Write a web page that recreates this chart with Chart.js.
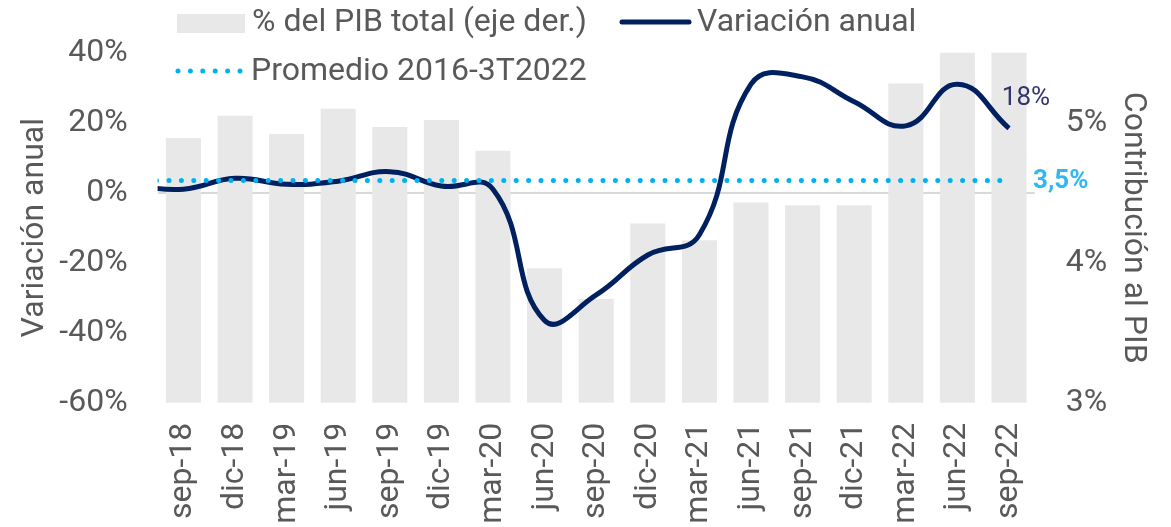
<!DOCTYPE html>
<html>
<head>
<meta charset="utf-8">
<script src="https://cdn.jsdelivr.net/npm/chart.js@4.4.1/dist/chart.umd.min.js"></script>
<style>
  html, body { margin: 0; padding: 0; background: #fff; }
  #wrap { width: 1171px; height: 527px; position: relative; }
</style>
</head>
<body>
<div id="wrap"><canvas id="chart"></canvas></div>
<script>
// quarters; jun-18 sits just left of the plot (only the lines reach into it)
const quarters = ["jun-18", "sep-18", "dic-18", "mar-19", "jun-19", "sep-19", "dic-19", "mar-20", "jun-20",
  "sep-20", "dic-20", "mar-21", "jun-21", "sep-21", "dic-21", "mar-22", "jun-22", "sep-22"];

// % del PIB total (right axis)
const pibShare = [null, 4.89, 5.05, 4.92, 5.10, 4.97, 5.02, 4.80, 3.96,
  3.74, 4.28, 4.16, 4.43, 4.41, 4.41, 5.28, 5.60, 5.60];

// variación anual (left axis)
const variacion = [2.0, 1.0, 4.1, 2.4, 3.3, 6.0, 1.9, 1.0, -36.5,
  -29.2, -17.8, -12.0, 31.0, 33.1, 26.0, 19.1, 31.0, 18.4];

// promedio 2016-3T2022
const promedio = [3.5, 3.5, 3.5, 3.5, 3.5, 3.5, 3.5, 3.5, 3.5,
  3.5, 3.5, 3.5, 3.5, 3.5, 3.5, 3.5, 3.5, 3.5];

const FONT = "Roboto";
const GREY_TEXT = "#595959";
const NAVY = "#002060";
const SKY = "#00b0f0";
const BAR = "#e8e8e8";

const legendPlugin = {
  id: "customLegend",
  afterDraw(chart) {
    const ctx = chart.ctx;
    ctx.save();
    ctx.font = "32px " + FONT;
    ctx.textBaseline = "middle";
    ctx.textAlign = "left";

    ctx.fillStyle = BAR;
    ctx.fillRect(177, 14, 68, 19);
    ctx.fillStyle = GREY_TEXT;
    ctx.fillText("% del PIB total (eje der.)", 252, 23);

    ctx.strokeStyle = NAVY;
    ctx.lineWidth = 5;
    ctx.lineCap = "round";
    ctx.beginPath();
    ctx.moveTo(622, 22);
    ctx.lineTo(689, 22);
    ctx.stroke();
    ctx.fillText("Variación anual", 697, 23);

    ctx.strokeStyle = SKY;
    ctx.setLineDash([0, 12.4]);
    ctx.beginPath();
    ctx.moveTo(178, 71);
    ctx.lineTo(242, 71);
    ctx.stroke();
    ctx.setLineDash([]);
    ctx.fillText("Promedio 2016-3T2022", 251, 72);

    // end labels
    const lineMeta = chart.getDatasetMeta(1).data;
    const last = lineMeta[lineMeta.length - 1];
    ctx.font = "26px " + FONT;
    ctx.fillStyle = "#34346e";
    ctx.textAlign = "center";
    ctx.fillText("18%", last.x + 17, last.y - 30);

    const avgMeta = chart.getDatasetMeta(2).data;
    const avgLast = avgMeta[avgMeta.length - 1];
    ctx.font = "bold 26px " + FONT;
    ctx.fillStyle = "#2fb8f2";
    ctx.textAlign = "left";
    ctx.fillText("3,5%", avgLast.x + 24, avgLast.y + 1);
    ctx.restore();
  },
};

new Chart(document.getElementById("chart"), {
  type: "bar",
  data: {
    labels: quarters,
    datasets: [
      {
        label: "% del PIB total (eje der.)",
        data: pibShare,
        backgroundColor: BAR,
        yAxisID: "y1",
        categoryPercentage: 1,
        barPercentage: 0.68,
        order: 3,
      },
      {
        type: "line",
        label: "Variación anual",
        data: variacion,
        borderColor: NAVY,
        backgroundColor: "transparent",
        borderWidth: 5,
        pointRadius: 0,
        tension: 0.45,
        yAxisID: "y",
        order: 2,
      },
      {
        type: "line",
        label: "Promedio 2016-3T2022",
        data: promedio,
        borderColor: SKY,
        backgroundColor: "transparent",
        borderWidth: 5,
        borderDash: [0, 12.4],
        borderCapStyle: "round",
        pointRadius: 0,
        yAxisID: "y",
        order: 1,
      },
    ],
  },
  options: {
    responsive: true,
    maintainAspectRatio: false,
    animation: false,
    layout: { padding: { top: 52.7, left: 0, right: 0, bottom: 0 } },
    plugins: {
      legend: { display: false },
      tooltip: { enabled: false },
    },
    scales: {
      x: {
        type: "category",
        min: "sep-18",
        offset: true,
        grid: { display: false, drawTicks: false },
        border: { display: false },
        ticks: {
          color: GREY_TEXT,
          font: { family: FONT, size: 32 },
          minRotation: 90,
          maxRotation: 90,
          autoSkip: false,
          padding: 20,
        },
        afterFit(scale) { scale.height = 124.3; },
      },
      y: {
        position: "left",
        min: -60,
        max: 40,
        ticks: {
          stepSize: 20,
          color: GREY_TEXT,
          font: { family: FONT, size: 32 },
          padding: 30,
          callback: function (v) { return v + "%"; },
        },
        grid: {
          drawTicks: false,
          lineWidth: 2,
          color: function (c) { return c.tick && c.tick.value === 0 ? "#d9d9d9" : "transparent"; },
        },
        border: { display: false },
        title: {
          display: true,
          text: "Variación anual",
          color: GREY_TEXT,
          font: { family: FONT, size: 32 },
          padding: { top: 16, bottom: 0 },
        },
        afterFit(scale) { scale.width = 157.6; },
      },
      y1: {
        position: "right",
        min: 3,
        max: 5.5,
        ticks: {
          stepSize: 1,
          includeBounds: false,
          color: GREY_TEXT,
          font: { family: FONT, size: 32 },
          padding: 31,
          callback: function (v) { return v + "%"; },
        },
        grid: { display: false, drawTicks: false },
        border: { display: false },
        title: {
          display: true,
          text: "Contribución al PIB",
          color: GREY_TEXT,
          font: { family: FONT, size: 32 },
          padding: { top: 19, bottom: 0 },
        },
        afterFit(scale) { scale.width = 136.2; },
      },
    },
  },
  plugins: [legendPlugin],
});
</script>
</body>
</html>
